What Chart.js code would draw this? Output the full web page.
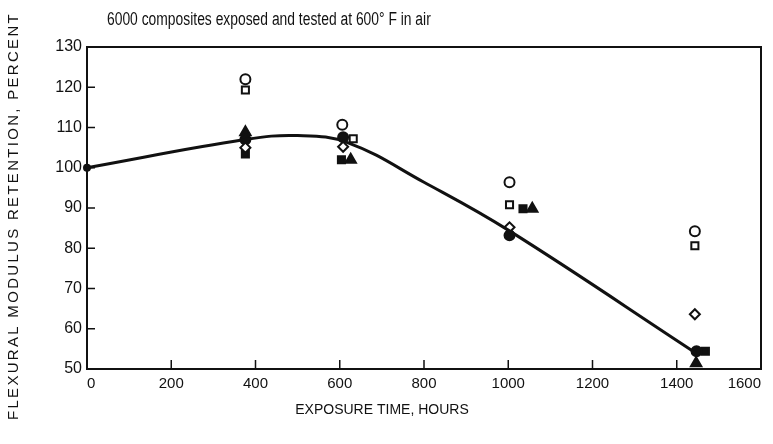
<!DOCTYPE html>
<html>
<head>
<meta charset="utf-8">
<script src="https://cdn.jsdelivr.net/npm/chart.js@4.4.1/dist/chart.umd.min.js"></script>
<style>
  html,body{margin:0;padding:0;background:#fff;}
  #wrap{width:773px;height:444px;}
</style>
</head>
<body>
<div id="wrap"><canvas id="mychart" width="773" height="444"></canvas></div>
<script>
// tick labels
const xTicks=[0,200,400,600,800,1000,1200,1400,1600];
const yTicks=[50,60,70,80,90,100,110,120,130];

const openCircleX=[376,606,1003,1443];
const openCircleY=[122,110.7,96.4,84.2];
const openSquareX=[376,632,1003,1443];
const openSquareY=[119.3,107.2,90.8,80.6];
const openDiamondX=[376,608,1003,1443];
const openDiamondY=[105,105.2,85.2,63.6];
const filledCircleX=[0,376,608,1003,1447];
const filledCircleY=[100,107,107.6,83.2,54.4];
const filledSquareX=[376,604,1035,1468];
const filledSquareY=[103.4,102,89.8,54.4];
const filledTriangleX=[376,626,1057,1446];
const filledTriangleY=[108.8,102,89.8,51.4];

// faired curve through the data
const curveX=[0,375,500,620,800,1000,1445];
const curveY=[100,107,108,106.2,96.4,84.5,54];

function pts(xs,ys){return xs.map((x,i)=>({x:x,y:ys[i]}));}

const ink='#111';
const fam='"Liberation Sans", Arial, sans-serif';

const frame={
  id:'frame',
  afterDraw(chart){
    const ctx=chart.ctx, a=chart.chartArea;
    const xs=chart.scales.x, ys=chart.scales.y;
    ctx.save();
    ctx.strokeStyle=ink;
    ctx.lineWidth=2;
    ctx.strokeRect(a.left,a.top,a.right-a.left,a.bottom-a.top);
    ctx.lineWidth=1.5;
    ctx.beginPath();
    xTicks.forEach(v=>{
      if(v===0||v===1600)return;
      const p=xs.getPixelForValue(v);
      ctx.moveTo(p,a.bottom);ctx.lineTo(p,a.bottom-9);
    });
    yTicks.forEach(v=>{
      if(v===50||v===130)return;
      const p=ys.getPixelForValue(v);
      ctx.moveTo(a.left,p);ctx.lineTo(a.left+8,p);
    });
    ctx.stroke();
    // titles
    ctx.fillStyle=ink;
    ctx.textBaseline='middle';
    ctx.textAlign='left';
    ctx.save();
    ctx.translate(107,20);
    ctx.scale(0.77,1);
    ctx.font='18px '+fam;
    ctx.fillText('6000 composites exposed and tested at 600\u00b0 F in air',0,0);
    ctx.restore();
    ctx.textAlign='center';
    ctx.font='14px '+fam;
    ctx.fillText('EXPOSURE TIME, HOURS',382,410);
    ctx.translate(14,216);
    ctx.rotate(-Math.PI/2);
    ctx.letterSpacing='2.3px';
    ctx.font='15px '+fam;
    ctx.fillText('FLEXURAL MODULUS RETENTION, PERCENT',0,0);
    ctx.restore();
  }
};

function markerSet(label,xs,ys,style,filled,r){
  return {
    label:label,
    data:pts(xs,ys),
    pointStyle:style,
    pointRadius:c=>(c.raw&&c.raw.x===0)?3:r,
    pointBackgroundColor:filled?ink:'#fff',
    pointBorderColor:ink,
    pointBorderWidth:2,
    showLine:false
  };
}

const canvas=document.getElementById('mychart');
const config={
  type:'scatter',
  data:{
    datasets:[
      {
        label:'curve',
        data:pts(curveX,curveY),
        showLine:true,
        borderColor:ink,
        borderWidth:3,
        tension:0.4,
        pointRadius:0
      },
      markerSet('open circle',openCircleX,openCircleY,'circle',false,5),
      markerSet('open square',openSquareX,openSquareY,'rect',false,5),
      markerSet('open diamond',openDiamondX,openDiamondY,'rectRot',false,5),
      markerSet('filled circle',filledCircleX,filledCircleY,'circle',true,5),
      markerSet('filled square',filledSquareX,filledSquareY,'rect',true,5),
      markerSet('filled triangle',filledTriangleX,filledTriangleY,'triangle',true,6)
    ]
  },
  options:{
    responsive:false,
    animation:false,
    clip:false,
    layout:{padding:{left:0,right:12,top:47,bottom:0}},
    plugins:{legend:{display:false},tooltip:{enabled:false},title:{display:false}},
    scales:{
      x:{
        type:'linear',min:0,max:1600,
        afterFit(s){s.height=75;s.paddingLeft=0;s.paddingRight=0;},
        afterBuildTicks(s){s.ticks=xTicks.map(v=>({value:v}));},
        grid:{drawOnChartArea:false,drawTicks:false},
        border:{display:false},
        ticks:{color:ink,padding:6,maxRotation:0,align:'inner',font:{size:15,family:fam},callback:v=>String(v)}
      },
      y:{
        type:'linear',min:50,max:130,
        afterFit(s){s.width=87;s.paddingTop=0;s.paddingBottom=0;},
        afterBuildTicks(s){s.ticks=yTicks.map(v=>({value:v}));},
        grid:{drawOnChartArea:false,drawTicks:false},
        border:{display:false},
        ticks:{color:ink,padding:5,font:{size:16,family:fam},callback:v=>String(v)}
      }
    }
  },
  plugins:[frame]
};
new Chart(canvas,config);
</script>
</body>
</html>
